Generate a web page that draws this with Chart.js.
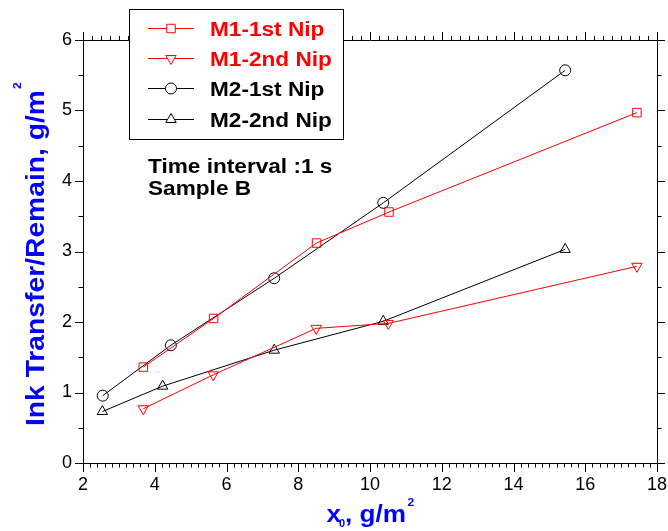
<!DOCTYPE html>
<html>
<head>
<meta charset="utf-8">
<script src="https://cdn.jsdelivr.net/npm/chart.js@4.4.0/dist/chart.umd.min.js"></script>
<style>
  html, body { margin: 0; padding: 0; background: #fff; }
  #wrap { width: 668px; height: 531px; }
</style>
</head>
<body>
<div id="wrap"><canvas id="chart" width="668" height="531"></canvas></div>
<script>
// values
const seriesNames = ['M1-1st Nip', 'M1-2nd Nip', 'M2-1st Nip', 'M2-2nd Nip'];
const m1FirstX = [3.68, 5.64, 8.51, 10.53, 17.44];
const m1FirstY = [1.36, 2.05, 3.12, 3.56, 4.97];
const m1SecondX = [3.68, 5.63, 8.50, 10.51, 17.44];
const m1SecondY = [0.77, 1.25, 1.91, 1.98, 2.79];
const m2FirstX = [2.55, 4.45, 7.33, 10.37, 15.44];
const m2FirstY = [0.955, 1.67, 2.62, 3.69, 5.57];
const m2SecondX = [2.54, 4.22, 7.33, 10.37, 15.44];
const m2SecondY = [0.73, 1.09, 1.60, 2.01, 3.03];
const xTicks = [2, 4, 6, 8, 10, 12, 14, 16, 18];
const yTicks = [0, 1, 2, 3, 4, 5, 6];
const noteLines = ['Time interval :1 s', 'Sample B'];

const FONT = "Arial, 'Liberation Sans', sans-serif";
const BLUE = '#0000ff';
const RED = '#ff0000';

const toPoints = (xs, ys) => xs.map((x, i) => ({ x, y: ys[i] }));

const styles = [
  { color: RED, pointStyle: 'rect', radius: 6, rotation: 0 },
  { color: RED, pointStyle: 'triangle', radius: 6, rotation: 180 },
  { color: '#000', pointStyle: 'circle', radius: 5.5, rotation: 0 },
  { color: '#000', pointStyle: 'triangle', radius: 6, rotation: 0 }
];
const seriesData = [
  toPoints(m1FirstX, m1FirstY),
  toPoints(m1SecondX, m1SecondY),
  toPoints(m2FirstX, m2FirstY),
  toPoints(m2SecondX, m2SecondY)
];

// bold text, a bit wider than Arial, like the original
function drawStretched(ctx, text, x, y, size, color, sx) {
  ctx.save();
  ctx.font = `bold ${size}px ${FONT}`;
  ctx.fillStyle = color;
  ctx.textAlign = 'left';
  ctx.textBaseline = 'alphabetic';
  ctx.translate(x, y);
  ctx.scale(sx, 1);
  ctx.fillText(text, 0, 0);
  const w = ctx.measureText(text).width * sx;
  ctx.restore();
  return w;
}

function marker(ctx, st, x, y) {
  ctx.save();
  ctx.fillStyle = '#fff';
  ctx.strokeStyle = st.color;
  ctx.lineWidth = 1;
  Chart.helpers.drawPoint(ctx, { pointStyle: st.pointStyle, radius: st.radius, rotation: st.rotation, borderWidth: 1 }, x, y);
  ctx.restore();
}

const decorPlugin = {
  id: 'decor',
  afterDraw(chart) {
    const { ctx, chartArea: a } = chart;
    const xs = chart.scales.x, ys = chart.scales.y;

    // tick marks, all outward
    ctx.save();
    ctx.strokeStyle = '#000';
    ctx.lineWidth = 1;
    ctx.beginPath();
    for (let k = 0; k <= 80; k++) {
      const px = Math.round(xs.getPixelForValue(2 + k * 0.2)) + 0.5;
      ctx.moveTo(px, a.bottom);
      ctx.lineTo(px, a.bottom + (k % 10 === 0 ? 9 : 4.5));
    }
    for (let k = 0; k <= 64; k++) {
      const px = Math.round(xs.getPixelForValue(2 + k * 0.25)) + 0.5;
      ctx.moveTo(px, a.top);
      ctx.lineTo(px, a.top - (k % 8 === 0 ? 8 : 4));
    }
    for (let k = 0; k <= 12; k++) {
      const py = Math.round(ys.getPixelForValue(k * 0.5)) + 0.5;
      const len = k % 2 === 0 ? 8 : 4.5;
      ctx.moveTo(a.left, py);
      ctx.lineTo(a.left - len, py);
      ctx.moveTo(a.right, py);
      ctx.lineTo(a.right + len, py);
    }
    ctx.stroke();
    ctx.restore();

    // legend box over the top edge
    ctx.save();
    ctx.fillStyle = '#fff';
    ctx.fillRect(129.5, 9.5, 214, 130);
    ctx.strokeStyle = '#000';
    ctx.lineWidth = 1;
    ctx.strokeRect(129.5, 9.5, 214, 130);
    seriesNames.forEach((name, i) => {
      const st = styles[i];
      const y = Math.round(28 + i * 30.2) + 0.5;
      ctx.strokeStyle = st.color;
      ctx.beginPath();
      ctx.moveTo(148, y);
      ctx.lineTo(194, y);
      ctx.stroke();
      marker(ctx, st, 171, y);
      drawStretched(ctx, name, 210, y + 7, 19.5, st.color, 1.16);
    });
    ctx.restore();

    // note
    drawStretched(ctx, noteLines[0], 148, 172.5, 19.5, '#000', 1.16);
    drawStretched(ctx, noteLines[1], 148, 195, 19.5, '#000', 1.16);

    // y title
    ctx.save();
    ctx.translate(44, 426);
    ctx.rotate(-Math.PI / 2);
    const w = drawStretched(ctx, 'Ink Transfer/Remain, g/m', 0, 0, 25, BLUE, 1.13);
    drawStretched(ctx, '2', w + 1, -23, 11, BLUE, 1.1);
    ctx.restore();

    // x title
    drawStretched(ctx, 'x', 326.5, 521.7, 24, BLUE, 1.09);
    drawStretched(ctx, '0', 339, 527, 10, BLUE, 1.1);
    const w2 = drawStretched(ctx, ', g/m', 345, 521.7, 24, BLUE, 1.09);
    drawStretched(ctx, '2', 345 + w2 + 1.5, 506, 11, BLUE, 1.1);
  }
};

new Chart(document.getElementById('chart'), {
  type: 'scatter',
  data: {
    datasets: seriesData.map((pts, i) => ({
      label: seriesNames[i],
      data: pts,
      showLine: true,
      borderColor: styles[i].color,
      borderWidth: 1,
      backgroundColor: 'rgba(0,0,0,0)',
      pointStyle: styles[i].pointStyle,
      pointRadius: styles[i].radius,
      pointRotation: styles[i].rotation,
      pointBorderWidth: 1,
      pointBorderColor: styles[i].color,
      pointBackgroundColor: 'rgba(0,0,0,0)',
      tension: 0
    }))
  },
  options: {
    responsive: false,
    animation: false,
    devicePixelRatio: 1,
    layout: { padding: 0 },
    plugins: { legend: { display: false }, tooltip: { enabled: false } },
    scales: {
      x: {
        type: 'linear', position: 'bottom', min: 2, max: 18,
        afterBuildTicks: s => { s.ticks = xTicks.map(v => ({ value: v })); },
        afterFit: s => { s.height = 68; s.paddingLeft = 0; s.paddingRight = 0; },
        grid: { display: false, drawTicks: false },
        border: { display: true, color: '#000', width: 1 },
        ticks: { color: '#000', padding: 11, maxRotation: 0, autoSkip: false, font: { family: FONT, size: 18 } }
      },
      x2: {
        type: 'linear', position: 'top', min: 2, max: 18,
        afterFit: s => { s.height = 40; s.paddingLeft = 0; s.paddingRight = 0; },
        grid: { display: false, drawTicks: false },
        border: { display: true, color: '#000', width: 1 },
        ticks: { display: false }
      },
      y: {
        type: 'linear', position: 'left', min: 0, max: 6,
        afterBuildTicks: s => { s.ticks = yTicks.map(v => ({ value: v })); },
        afterFit: s => { s.width = 83; s.paddingTop = 0; s.paddingBottom = 0; },
        grid: { display: false, drawTicks: false },
        border: { display: true, color: '#000', width: 1 },
        ticks: { color: '#000', padding: 11, autoSkip: false, font: { family: FONT, size: 18 } }
      },
      y2: {
        type: 'linear', position: 'right', min: 0, max: 6,
        afterFit: s => { s.width = 11; s.paddingTop = 0; s.paddingBottom = 0; },
        grid: { display: false, drawTicks: false },
        border: { display: true, color: '#000', width: 1 },
        ticks: { display: false }
      }
    }
  },
  plugins: [decorPlugin]
});
</script>
</body>
</html>
